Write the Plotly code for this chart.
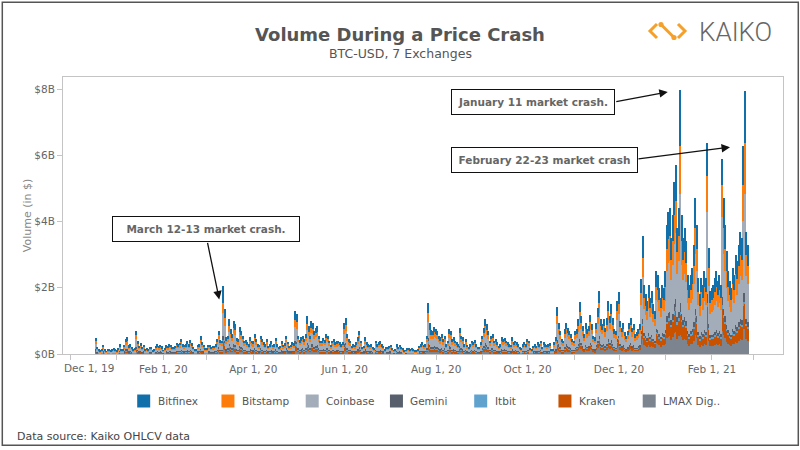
import pandas as pd
import plotly.graph_objects as go

# Daily BTC-USD volume per exchange, in units of $10M (Dec 18, 2019 - Feb 25, 2021)
bitfinex = [
    10,4,3,2,3,5,3,2,3,3,2,3,3,3,
    2,3,6,3,3,5,9,10,5,6,4,3,4,14,8,5,6,4,5,3,3,3,4,4,2,3,5,6,5,5,5,
    2,4,5,5,6,6,4,4,5,7,6,7,9,6,6,6,8,6,8,6,4,3,3,5,6,11,7,6,3,
    3,6,5,4,5,5,6,9,14,8,8,50,27,10,11,21,15,12,20,18,10,9,17,14,11,8,8,7,6,10,8,
    8,12,9,6,6,11,9,7,6,9,5,6,8,6,6,10,6,4,5,8,6,6,11,7,5,6,7,6,26,24,
    11,8,10,11,9,12,23,17,11,20,19,14,16,17,11,8,8,10,8,12,11,8,6,8,9,7,8,8,7,6,7,
    19,22,12,9,8,5,6,6,7,10,14,8,4,5,10,7,6,6,6,4,4,8,6,7,8,6,5,3,4,4,
    5,6,4,2,3,6,4,6,4,4,2,2,4,3,3,3,3,2,2,3,5,6,7,6,6,11,31,19,14,14,16,
    15,14,11,10,12,9,11,6,8,15,14,9,10,8,7,6,16,11,10,6,9,6,4,6,8,7,8,6,4,4,7,
    11,16,21,18,14,8,11,12,8,9,7,5,6,10,9,10,8,7,6,6,10,7,8,7,6,4,4,6,7,6,
    9,8,4,3,5,6,5,7,6,8,4,7,6,6,6,6,3,3,7,10,28,19,14,9,8,15,19,16,14,12,9,
    8,13,14,20,30,22,16,11,18,14,16,23,17,10,10,18,27,36,20,17,20,15,21,30,22,29,21,14,13,30,
    35,19,15,18,12,10,13,18,21,15,17,11,12,14,17,43,68,40,34,30,40,32,36,29,25,48,46,38,32,40,38,
    48,74,82,84,67,80,99,108,72,84,169,80,67,72,65,46,40,46,49,63,90,74,44,34,44,40,48,44,99,61,36,
    38,40,44,48,42,46,40,80,89,74,59,48,42,38,49,46,57,53,63,70,67,120,156,70,63,
]
bitstamp = [
    8,4,3,2,2,5,2,2,2,3,2,2,3,2,
    2,3,5,2,2,5,7,9,4,5,4,2,3,12,6,4,5,4,5,2,3,3,4,4,2,2,4,5,4,5,4,
    2,3,4,4,5,5,4,3,4,6,5,6,8,5,5,5,6,5,7,5,3,2,3,5,5,9,6,5,3,
    3,5,5,3,4,4,5,7,12,7,7,30,23,9,9,18,13,10,17,16,8,8,14,12,9,7,7,6,5,9,7,
    6,10,8,5,5,9,8,6,5,8,4,5,6,5,5,8,5,4,4,6,5,5,9,6,4,5,6,5,22,20,
    9,7,9,9,8,10,20,14,9,17,16,12,14,14,9,7,7,8,7,10,9,7,5,7,8,6,6,7,6,5,6,
    16,19,10,8,7,4,5,5,6,9,12,7,4,4,9,6,5,5,5,3,3,7,5,6,6,5,4,3,4,3,
    4,5,3,2,2,5,4,5,4,3,2,2,3,3,2,3,2,2,2,3,4,5,6,5,5,9,26,16,12,12,14,
    13,12,9,9,10,8,9,5,7,13,12,8,9,7,6,5,13,9,9,5,8,5,4,5,7,6,7,5,3,4,6,
    9,14,18,15,12,7,9,10,7,8,6,4,5,9,8,8,7,6,5,5,9,6,7,6,5,3,3,5,6,5,
    8,7,3,3,4,5,4,6,5,7,3,6,5,5,5,5,3,3,6,9,24,16,12,8,7,13,16,14,12,10,8,
    6,11,12,17,25,18,14,10,15,12,14,19,14,9,8,15,22,30,17,14,17,13,18,26,18,24,18,12,11,26,
    30,16,13,15,10,9,11,15,18,13,14,10,10,12,14,36,57,34,29,26,34,27,30,24,21,40,38,32,27,34,32,
    43,66,73,75,60,71,88,97,65,75,145,71,60,65,58,41,36,41,44,56,80,66,39,31,39,36,43,39,108,54,32,
    34,36,39,43,37,41,36,95,80,66,53,43,37,34,44,41,51,48,56,63,60,107,156,63,56,
]
coinbase = [
    16,7,4,3,4,9,4,2,3,4,4,4,5,3,
    3,5,10,4,3,9,14,16,9,10,7,3,6,23,12,8,11,7,9,4,6,4,7,7,4,4,8,10,8,9,7,
    4,6,9,8,10,9,7,7,8,11,10,11,15,10,9,10,13,10,14,11,7,4,4,9,10,18,12,9,5,
    6,9,9,7,8,8,10,15,23,14,13,70,45,16,18,35,25,20,33,30,16,15,27,23,18,13,14,12,10,16,13,
    13,20,15,10,9,18,15,12,10,15,8,10,13,9,10,16,10,7,8,13,9,11,18,12,8,9,12,11,43,40,
    18,14,16,18,15,20,38,28,18,33,31,23,26,28,18,13,13,16,14,20,18,13,9,13,15,12,13,13,12,10,12,
    31,36,20,15,13,8,10,9,12,16,23,13,7,8,16,12,10,9,10,7,6,13,10,12,13,10,8,4,7,7,
    8,9,6,4,4,10,7,9,7,6,3,4,6,6,4,5,4,3,3,4,8,10,12,9,10,18,51,30,24,23,27,
    25,23,18,16,20,15,18,10,13,25,23,15,16,13,12,10,26,18,16,10,15,9,7,10,13,12,14,10,7,7,12,
    18,26,35,30,23,13,18,20,13,15,12,8,10,16,15,16,13,12,10,9,16,12,13,12,10,7,6,10,12,10,
    15,13,6,4,8,10,8,12,10,13,7,12,10,9,10,11,4,4,12,16,47,31,23,15,13,25,31,26,23,20,15,
    14,27,27,38,59,42,31,23,35,27,31,44,33,20,18,35,51,70,38,33,38,29,41,60,42,55,41,27,27,60,
    66,35,28,34,24,20,25,34,39,28,31,21,24,26,31,79,126,74,63,56,74,60,66,51,45,86,84,70,60,74,70,
    86,136,150,153,121,148,183,200,132,153,330,148,121,132,118,83,74,83,92,115,165,136,80,62,80,74,86,80,250,113,66,
    70,74,80,86,78,83,74,243,165,136,109,86,78,70,92,83,105,97,115,130,121,220,300,130,115,
]
gemini = [
    3,1,1,1,1,2,1,1,1,1,1,1,1,1,
    1,1,2,1,1,2,3,3,2,2,1,1,1,4,2,2,2,1,2,1,1,1,1,1,1,1,1,2,1,2,1,
    1,1,2,1,2,2,1,1,1,2,2,2,3,2,2,2,2,2,3,2,1,1,1,2,2,3,2,2,1,
    1,2,2,1,1,2,2,3,4,3,2,12,8,3,3,6,4,4,6,6,3,3,5,4,3,2,3,2,2,3,2,
    2,4,3,2,2,3,3,2,2,3,2,2,2,2,2,3,2,1,1,2,2,2,3,2,2,2,2,2,8,7,
    3,3,3,3,3,4,7,5,3,6,6,4,5,5,3,2,2,3,3,4,3,2,2,2,3,2,2,2,2,2,2,
    6,7,4,3,2,2,2,2,2,3,4,2,1,2,3,2,2,2,2,1,1,2,2,2,2,2,2,1,1,1,
    2,2,1,1,1,2,1,2,1,1,1,1,1,1,1,1,1,1,1,1,2,2,2,2,2,3,9,6,4,4,5,
    4,4,3,3,4,3,3,2,2,5,4,3,3,2,2,2,5,3,3,2,3,2,1,2,2,2,3,2,1,1,2,
    3,5,6,5,4,2,3,4,2,3,2,2,2,3,3,3,2,2,2,2,3,2,2,2,2,1,1,2,2,2,
    3,2,1,1,2,2,2,2,2,2,1,2,2,2,2,2,1,1,2,3,9,6,4,3,2,4,6,5,4,4,3,
    2,3,3,4,6,5,3,2,4,3,3,5,4,2,2,4,6,8,4,4,4,3,4,6,5,6,4,3,3,6,
    7,4,3,4,3,2,3,4,4,3,4,2,3,3,4,9,14,8,7,6,8,7,8,6,5,10,10,8,7,8,8,
    10,16,17,18,14,17,21,23,15,18,25,17,14,15,14,10,8,10,10,13,19,16,9,7,9,8,10,9,25,13,8,
    8,8,9,10,9,10,8,24,19,16,12,10,9,8,10,10,12,11,13,15,14,25,25,15,13,
]
itbit = [
    2,1,1,0,1,1,1,0,1,1,0,1,1,1,
    0,1,1,1,1,1,2,2,1,1,1,1,1,3,2,1,1,1,1,1,1,1,1,1,0,1,1,1,1,1,1,
    1,1,1,1,1,1,1,1,1,1,1,1,2,1,1,1,2,1,2,1,1,1,1,1,1,2,1,1,1,
    1,1,1,1,1,1,1,2,3,2,2,8,5,2,2,4,3,2,4,4,2,2,3,3,2,2,2,1,1,2,2,
    2,2,2,1,1,2,2,1,1,2,1,1,2,1,1,2,1,1,1,2,1,1,2,2,1,1,1,1,5,5,
    2,2,2,2,2,2,5,3,2,4,4,3,3,3,2,2,2,2,2,2,2,2,1,2,2,1,2,2,1,1,1,
    4,4,2,2,2,1,1,1,1,2,3,2,1,1,2,1,1,1,1,1,1,2,1,1,2,1,1,1,1,1,
    1,1,1,1,1,1,1,1,1,1,0,1,1,1,1,1,1,0,0,1,1,1,1,1,1,2,6,4,3,3,3,
    3,3,2,2,2,2,2,1,2,3,3,2,2,2,1,1,3,2,2,1,2,1,1,1,2,1,2,1,1,1,1,
    2,3,4,4,3,2,2,2,2,2,1,1,1,2,2,2,2,1,1,1,2,1,2,1,1,1,1,1,1,1,
    2,2,1,1,1,1,1,1,1,2,1,1,1,1,1,1,1,1,1,2,6,4,3,2,2,3,4,3,3,2,2,
    1,1,2,2,3,2,2,1,2,2,2,2,2,1,1,2,3,4,2,2,2,2,2,3,2,3,2,2,1,3,
    4,2,2,2,1,1,1,2,2,2,2,1,1,2,2,5,7,4,4,3,4,3,4,3,3,5,5,4,3,4,4,
    5,8,9,9,7,8,10,11,8,9,10,8,7,8,7,5,4,5,5,7,9,8,5,4,5,4,5,5,13,6,4,
    4,4,5,5,4,5,4,12,9,8,6,5,4,4,5,5,6,6,7,7,7,13,8,7,7,
]
kraken = [
    6,3,2,1,2,3,2,1,2,2,1,2,2,2,
    1,2,4,2,2,3,5,6,3,4,3,2,2,8,5,3,4,3,3,2,2,2,3,3,1,2,3,4,3,3,3,
    1,2,3,3,4,3,3,2,3,4,4,4,5,4,3,4,4,4,5,4,2,2,2,3,4,7,4,3,2,
    2,3,3,2,3,3,4,5,8,5,5,20,16,6,7,13,9,7,12,11,6,5,10,8,7,5,5,4,4,6,5,
    4,7,5,4,3,7,5,4,4,5,3,4,4,3,4,6,4,3,3,4,3,4,7,4,3,3,4,4,16,14,
    7,5,6,7,5,7,14,10,7,12,11,8,10,10,7,5,5,6,5,7,7,5,3,5,5,4,4,5,4,4,4,
    11,13,7,5,5,3,4,3,4,6,8,5,3,3,6,4,4,3,4,2,2,5,4,4,4,4,3,2,3,2,
    3,3,2,1,2,4,3,3,3,2,1,1,2,2,2,2,2,1,1,2,3,4,4,3,4,7,19,11,9,8,10,
    9,8,7,6,7,5,7,4,5,9,8,5,6,5,4,4,10,7,6,4,5,3,3,4,5,4,5,4,2,3,4,
    7,10,13,11,8,5,7,7,5,5,4,3,4,6,5,6,5,4,4,3,6,4,5,4,4,2,2,4,4,4,
    5,5,2,2,3,4,3,4,4,5,2,4,4,3,4,4,2,2,4,6,17,11,8,5,5,9,11,10,8,7,5,
    4,7,8,11,16,12,9,6,10,8,9,12,9,6,5,10,14,19,11,9,11,8,11,16,12,15,11,8,7,16,
    20,11,9,10,7,6,8,10,12,9,10,7,7,8,10,25,39,23,20,18,23,19,21,17,14,28,26,22,19,23,22,
    28,43,47,48,39,46,57,63,42,48,60,46,39,42,37,26,23,26,29,36,52,43,25,20,25,23,28,25,70,35,21,
    22,23,25,28,24,26,23,65,52,43,34,28,24,22,29,26,33,31,36,41,39,70,75,41,36,
]
lmax = [
    4,2,1,1,1,2,1,1,1,1,1,1,1,1,
    1,1,2,1,1,2,4,4,2,2,2,1,1,6,3,2,3,2,2,1,1,1,2,2,1,1,2,2,2,2,2,
    1,1,2,2,2,2,2,2,2,3,2,2,3,2,2,2,3,2,3,3,2,1,1,2,2,4,3,2,1,
    1,2,2,2,2,2,2,3,6,3,3,15,11,4,5,8,6,5,8,7,3,3,7,6,5,3,3,3,2,4,3,
    3,5,3,2,2,5,3,3,2,3,2,2,3,2,2,3,2,2,2,3,2,3,5,3,2,2,3,3,10,10,
    5,3,4,5,3,5,8,8,5,8,8,6,6,8,5,3,3,3,3,5,5,3,2,3,3,3,3,3,3,2,3,
    8,9,5,3,3,2,2,2,3,4,6,3,2,2,4,3,2,2,2,2,1,3,2,3,3,2,2,1,2,2,
    2,2,1,1,1,2,2,2,2,1,1,1,1,1,1,1,1,1,1,1,2,2,3,2,2,5,13,7,6,6,7,
    6,6,5,4,5,3,5,2,3,6,6,3,4,3,3,2,6,5,4,2,3,2,2,2,3,3,3,2,2,2,3,
    5,6,9,7,6,3,5,5,3,3,3,2,2,4,3,3,3,3,2,2,4,3,3,3,2,2,1,2,3,2,
    3,3,1,1,2,2,2,3,2,3,2,3,2,2,2,3,1,1,3,4,11,8,6,3,3,6,8,6,6,5,3,
    5,8,9,13,19,14,10,7,11,9,10,14,11,7,6,11,17,23,13,11,13,10,13,19,14,18,13,9,8,19,
    24,13,10,12,8,7,9,12,14,10,12,8,8,10,12,30,46,27,23,21,27,22,25,20,17,33,31,26,22,27,26,
    30,47,52,53,42,50,62,68,46,53,58,50,42,46,41,29,25,29,31,40,57,47,28,22,28,25,30,28,72,38,23,
    24,25,28,30,26,29,25,71,56,47,37,30,26,24,31,29,36,34,40,44,42,75,75,44,40,
]

exchange_names = ["Bitfinex", "Bitstamp", "Coinbase", "Gemini", "Itbit", "Kraken", "LMAX Dig.."]
exchange_colors = ["#1170aa", "#fc7d0b", "#a3acb9", "#57606c", "#5fa2ce", "#c85200", "#7b848f"]
series = [bitfinex, bitstamp, coinbase, gemini, itbit, kraken, lmax]
UNIT = 1e7  # values above are in $10M

dates = pd.date_range("2019-12-18", "2021-02-25", freq="D")
for s in series:
    assert len(s) == len(dates), (len(s), len(dates))

x_tick_dates = pd.date_range("2019-12-01", "2021-03-01", freq="MS")
x_tick_labels = ["Dec 1, 19", "", "Feb 1, 20", "", "Apr 1, 20", "", "Jun 1, 20", "",
                 "Aug 1, 20", "", "Oct 1, 20", "", "Dec 1, 20", "", "Feb 1, 21", ""]
y_tick_vals = [0, 2e9, 4e9, 6e9, 8e9]
y_tick_labels = ["$0B", "$2B", "$4B", "$6B", "$8B"]

FONT = "DejaVu Sans"
L, T, W, H = 63, 77, 720, 277  # plot area in px


def px_x(x):
    return (x - L) / W


def px_y(y):
    return (T + H - y) / H


fig = go.Figure()
# stacked from the bottom: LMAX first, Bitfinex on top
for name, color, vals in reversed(list(zip(exchange_names, exchange_colors, series))):
    fig.add_trace(go.Bar(
        x=dates, y=[v * UNIT for v in vals], name=name, showlegend=False,
        marker=dict(color=color, line=dict(width=0)),
    ))

annotations = []
shapes = []

# legend row (evenly spaced entries like the source)
LEG_X0, LEG_STEP, LEG_Y = 137.2, 84.25, 401
for i, (name, color) in enumerate(zip(exchange_names, exchange_colors)):
    sx = LEG_X0 + i * LEG_STEP
    shapes.append(dict(type="rect", xref="paper", yref="paper",
                       x0=px_x(sx), x1=px_x(sx + 13), y0=px_y(LEG_Y + 6.5), y1=px_y(LEG_Y - 6.5),
                       fillcolor=color, line=dict(width=0)))
    annotations.append(dict(text=name, xref="paper", yref="paper",
                            x=px_x(sx + 18.3), y=px_y(LEG_Y), xanchor="left", yanchor="middle",
                            showarrow=False, font=dict(family=FONT, size=10.5, color="#555")))

# first axis label justified inside the chart like the source
annotations.append(dict(text=x_tick_labels[0], xref="paper", yref="paper",
                        x=px_x(62), y=px_y(368), xanchor="left", yanchor="middle",
                        showarrow=False, font=dict(family=FONT, size=10.5, color="#666")))
annotations.append(dict(text="BTC-USD, 7 Exchanges", xref="paper", yref="paper",
                        x=px_x(400), y=px_y(53.5), xanchor="center", yanchor="middle",
                        showarrow=False, font=dict(family=FONT, size=12.5, color="#555")))

boxes = [
    ("March 12-13 market crash.", 205.5, 228.5, 187, 25),
    ("January 11 market crash.", 533, 101.5, 163, 25),
    ("February 22-23 market crash", 544.5, 159.5, 186, 25),
]
for text, cx, cy, bw, bh in boxes:
    annotations.append(dict(text=text, xref="paper", yref="paper", x=px_x(cx), y=px_y(cy),
                            xanchor="center", yanchor="middle", showarrow=False,
                            width=bw - 3, height=bh - 3, borderpad=1, borderwidth=1,
                            bordercolor="#111", bgcolor="white",
                            font=dict(family=FONT, size=10.5, color="#666", weight=700)))

arrows = [
    ("2020-03-09 07:00", 1.65e9, -12, -58),
    ("2021-01-02 12:00", 7.92e9, -53, 10),
    ("2021-02-13 00:00", 6.25e9, -93, 12),
]
for ax_date, yv, dx, dy in arrows:
    annotations.append(dict(text="", x=ax_date, y=yv, xref="x", yref="y", ax=dx, ay=dy,
                            showarrow=True, arrowhead=2, arrowsize=1.3, arrowwidth=1.3,
                            arrowcolor="#111", standoff=0))

annotations.append(dict(text="Data source: Kaiko OHLCV data", xref="paper", yref="paper",
                        x=px_x(15), y=px_y(436), xanchor="left", yanchor="middle", showarrow=False,
                        font=dict(family=FONT, size=11, color="#444")))
annotations.append(dict(text="KAIKO", xref="paper", yref="paper",
                        x=px_x(735), y=px_y(31.5), xanchor="center", yanchor="middle", showarrow=False,
                        font=dict(family="Roboto", size=26, color="#666", weight=300)))

orange = "#f5a02a"
shapes += [
    dict(type="rect", xref="paper", yref="paper", x0=px_x(2.3), x1=px_x(798.3),
         y0=px_y(445.3), y1=px_y(2.3), line=dict(color="#555", width=1.5)),
    dict(type="path", xref="paper", yref="paper",
         path=f"M {px_x(657)} {px_y(24)} L {px_x(650)} {px_y(31)} L {px_x(657)} {px_y(38)}",
         line=dict(color=orange, width=3)),
    dict(type="path", xref="paper", yref="paper",
         path=f"M {px_x(678)} {px_y(24)} L {px_x(685)} {px_y(31)} L {px_x(678)} {px_y(38)}",
         line=dict(color=orange, width=3)),
    dict(type="line", xref="paper", yref="paper", x0=px_x(661), y0=px_y(24.5),
         x1=px_x(674), y1=px_y(37.5), line=dict(color=orange, width=3)),
]
for cx, cy in [(661, 24.5), (674, 37.5)]:
    shapes.append(dict(type="circle", xref="paper", yref="paper",
                       x0=px_x(cx - 2.6), x1=px_x(cx + 2.6), y0=px_y(cy + 2.6), y1=px_y(cy - 2.6),
                       fillcolor=orange, line=dict(width=0)))

fig.update_layout(
    width=800, height=450,
    margin=dict(l=L, r=800 - L - W, t=T, b=450 - T - H),
    paper_bgcolor="white", plot_bgcolor="white",
    barmode="stack", bargap=0,
    font=dict(family=FONT, color="#666"),
    title=dict(text="Volume During a Price Crash", x=0.5, xanchor="center",
               xref="container", yref="container", y=1 - 28 / 450, yanchor="top",
               font=dict(family=FONT, size=18, color="#555", weight=700)),
    xaxis=dict(type="date", range=["2019-11-26 01:30", "2021-03-20 09:00"],
               tickvals=x_tick_dates, ticktext=[""] + x_tick_labels[1:],
               ticks="outside", ticklen=5, tickcolor="#c4c4c4",
               showline=True, mirror=True, linecolor="#c4c4c4", linewidth=1,
               showgrid=False, zeroline=False,
               tickfont=dict(family=FONT, size=10.5, color="#666")),
    yaxis=dict(range=[0, 8.37e9], tickvals=y_tick_vals, ticktext=y_tick_labels,
               ticks="outside", ticklen=5, tickcolor="#c4c4c4",
               showline=True, mirror=True, linecolor="#c4c4c4", linewidth=1,
               showgrid=False, zeroline=False,
               title=dict(text="Volume (in $)", standoff=0,
                          font=dict(family=FONT, size=11, color="#888")),
               tickfont=dict(family=FONT, size=10.5, color="#666")),
    annotations=annotations,
    shapes=shapes,
    showlegend=False,
)

fig.write_html("out.html", config={"displayModeBar": False},
               post_script="document.body.style.margin='0px';document.body.style.overflow='hidden';")
